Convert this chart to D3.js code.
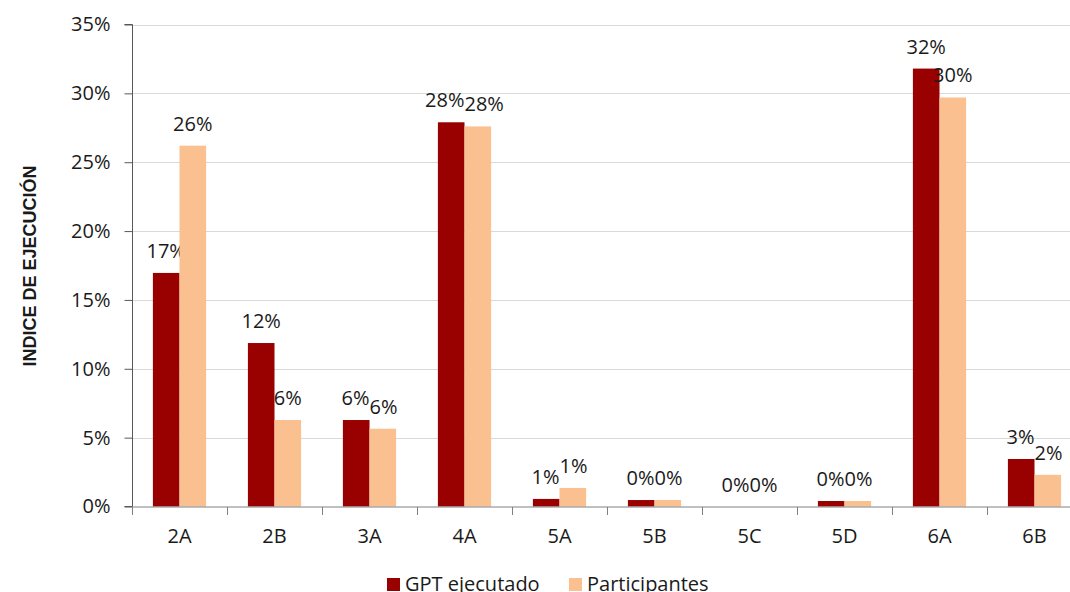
<!DOCTYPE html>
<html><head><meta charset="utf-8">
<script src="https://cdn.jsdelivr.net/npm/d3@7"></script>
<style>
html,body{margin:0;padding:0;background:#fff;}
svg{display:block;}
text{font-family:"Open Sans",sans-serif;fill:#1a1a1a;}
</style></head>
<body>
<svg id="c" width="1070" height="592"></svg>
<script>
const categories = ["2A","2B","3A","4A","5A","5B","5C","5D","6A","6B"];
const gptEjecutado = [16.96, 11.87, 6.28, 27.9, 0.55, 0.47, 0, 0.4, 31.8, 3.45];
const participantes = [26.2, 6.28, 5.65, 27.6, 1.35, 0.47, 0, 0.4, 29.7, 2.3];
const seriesNames = ["GPT ejecutado","Participantes"];
const seriesColors = ["#990000","#FAC090"];
const yTicks = [0,5,10,15,20,25,30,35];

(function(){
const svg = d3.select("#c");
const mLeft = 132, mRight = 1082, mTop = 24.5, mBottom = 506.5;
const FS = "20px";

const x = d3.scaleBand().domain(categories).range([mLeft, mRight]).paddingInner(0).paddingOuter(0);
const y = d3.scaleLinear().domain([0,35]).range([mBottom, mTop]);

// gridlines
svg.append("g").selectAll("line").data(yTicks.filter(d=>d>0)).join("line")
  .attr("x1", mLeft).attr("x2", 1070)
  .attr("y1", d=>Math.round(y(d))+0.5).attr("y2", d=>Math.round(y(d))+0.5)
  .attr("stroke","#d9d9d9").attr("stroke-width",1);

// bars
const groupW = x.bandwidth()*0.56;
const barW = groupW/2;
const series = [gptEjecutado, participantes];
const labelSel = [];
series.forEach((vals, si) => {
  const g = svg.append("g");
  g.selectAll("rect").data(vals).join("rect")
    .attr("x", (d,i)=> x(categories[i]) + (x.bandwidth()-groupW)/2 + si*barW)
    .attr("y", d=> y(d))
    .attr("width", barW)
    .attr("height", d=> y(0)-y(d))
    .attr("fill", seriesColors[si]);
  labelSel.push(g.selectAll("text").data(vals).join("text")
    .attr("x", (d,i)=> x(categories[i]) + (x.bandwidth()-groupW)/2 + si*barW + barW/2)
    .attr("y", d=> y(d) - 15)
    .attr("text-anchor","middle")
    .attr("font-size",FS)
    .text(d=> Math.round(d) + "%"));
});
// push apart overlapping label pairs horizontally
const n0 = labelSel[0].nodes(), n1 = labelSel[1].nodes();
categories.forEach((c,i)=>{
  const a = n0[i], b = n1[i];
  const ya_ = +a.getAttribute("y"), yb = +b.getAttribute("y");
  if (Math.abs(ya_-yb) < 18) {
    const wa = a.getComputedTextLength(), wb = b.getComputedTextLength();
    const xa_ = +a.getAttribute("x"), xb = +b.getAttribute("x");
    const overlap = (xa_ + wa/2) - (xb - wb/2);
    if (overlap > 0) {
      a.setAttribute("x", xa_ - overlap/2);
      b.setAttribute("x", xb + overlap/2);
    }
  }
});

// y axis
const yAxis = d3.axisLeft(y).tickValues(yTicks).tickFormat(d=>d+"%").tickSize(8).tickPadding(14);
const ya = svg.append("g").attr("transform",`translate(${mLeft+0.5},0)`).call(yAxis);
ya.select(".domain").attr("stroke","#595959").attr("d",`M-8,${mTop}H0V${mBottom}H-8`);
ya.selectAll(".tick line").attr("stroke","#595959");
ya.selectAll(".tick text").attr("font-size",FS).attr("font-family","Open Sans, sans-serif").attr("fill","#1a1a1a");

// x axis
const xa = svg.append("g").attr("transform",`translate(0,${mBottom+0.5})`);
xa.append("line").attr("x1",mLeft).attr("x2",1070).attr("y1",0).attr("y2",0).attr("stroke","#808080");
xa.selectAll("line.t").data(d3.range(categories.length+1)).join("line").attr("class","t")
  .attr("x1", i=> Math.round(mLeft + i*x.step())+0.5).attr("x2", i=> Math.round(mLeft + i*x.step())+0.5)
  .attr("y1",0).attr("y2",8).attr("stroke","#808080");
xa.selectAll("text").data(categories).join("text")
  .attr("x", d=> x(d)+x.bandwidth()/2)
  .attr("y", 36)
  .attr("text-anchor","middle")
  .attr("font-size",FS)
  .text(d=>d);

// y title
svg.append("text")
  .attr("transform","translate(36,266) rotate(-90)")
  .attr("text-anchor","middle")
  .attr("font-size","18px")
  .attr("font-weight","bold")
  .style("font-family","Liberation Sans, Arial, sans-serif")
  .text("INDICE DE EJECUCIÓN");

// legend
const legendX = [387, 569];
const lg = svg.append("g");
seriesNames.forEach((n,i)=>{
  lg.append("rect").attr("x",legendX[i]).attr("y",578).attr("width",13).attr("height",13).attr("fill",seriesColors[i]);
  lg.append("text").attr("x",legendX[i]+18).attr("y",591).attr("font-size",FS).text(n);
});
})();
</script>
</body></html>
